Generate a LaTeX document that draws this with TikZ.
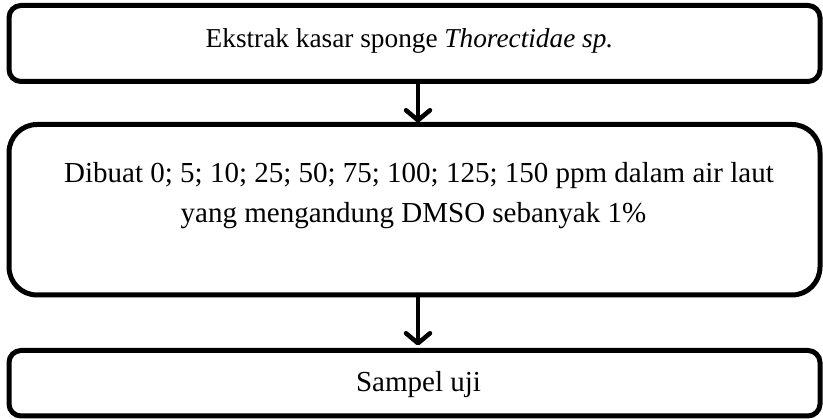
\documentclass[tikz,border=0pt]{standalone}
\usepackage{fontspec}
\setmainfont{Liberation Serif}
\usetikzlibrary{arrows.meta}
\begin{document}
\begin{tikzpicture}[x=1pt,y=1pt,
  box/.style={draw, line width=5pt, inner sep=0pt, outer sep=0pt},
  txt/.style={font=\fontsize{29}{40}\selectfont, inner sep=0pt, anchor=base},
  arr/.style={line width=4.5pt, line cap=round,
    -{Straight Barb[length=10pt,width=24pt,line cap=round,line join=round]}}]
\useasboundingbox (0,0) rectangle (823,-419);
\fill[white] (0,0) rectangle (823,-419);
\node[box, rounded corners=12pt, minimum width=811pt, minimum height=76pt] (top) at (414.5,-43.5) {};
\node[box, rounded corners=28pt, minimum width=811pt, minimum height=170.5pt] (mid) at (414.5,-209.75) {};
\node[box, rounded corners=12pt, minimum width=811pt, minimum height=65.5pt] (bot) at (414.5,-383.25) {};
\node[txt, font=\fontsize{27.3}{36}\selectfont] (toptxt) at (409.5,-48) {Ekstrak kasar sponge \textit{Thorectidae sp.}};
\node[txt] (midone) at (419,-183) {Dibuat 0; 5; 10; 25; 50; 75; 100; 125; 150 ppm dalam air laut};
\node[txt] (midtwo) at (413.5,-223) {yang mengandung DMSO sebanyak 1\%};
\node[txt] (bottxt) at (418.5,-392) {Sampel uji};
\coordinate (ax) at (418,0);
\draw[arr, shorten >=2pt] (ax |- top.south) -- (ax |- mid.north);
\draw[arr, shorten >=5pt] (ax |- mid.south) -- (ax |- bot.north);
\end{tikzpicture}
\end{document}
